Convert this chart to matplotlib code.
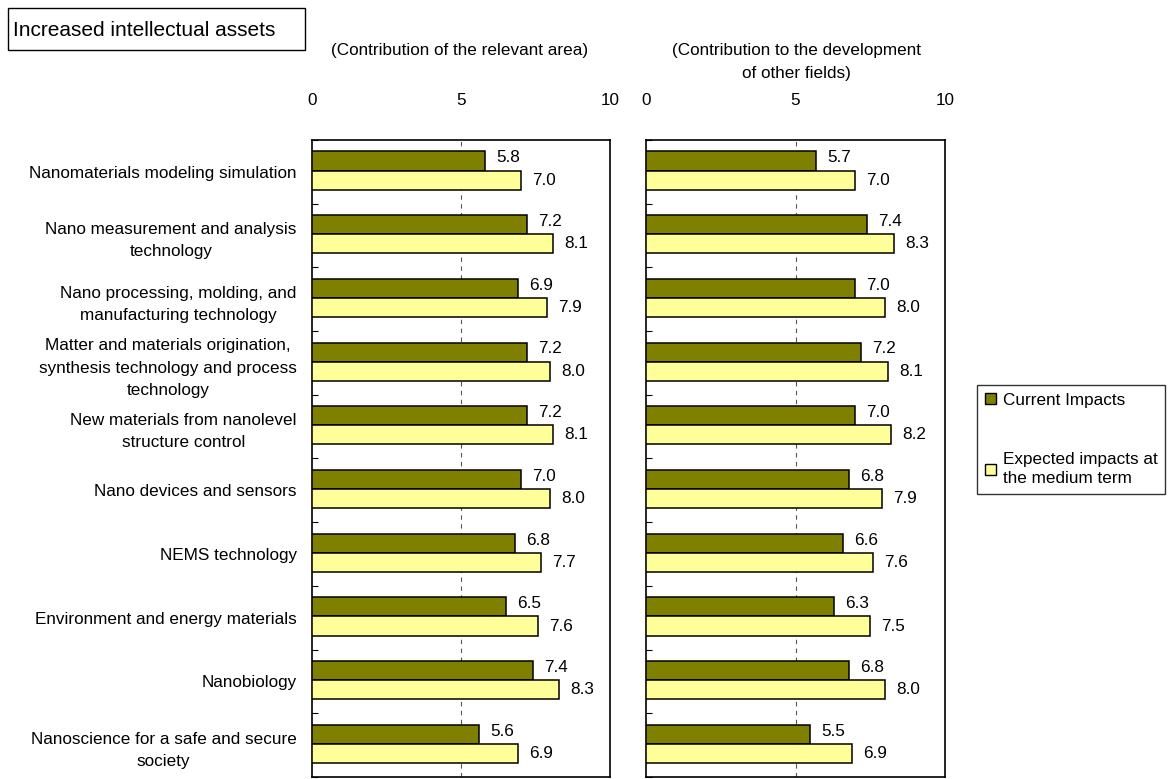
import numpy as np
import matplotlib
matplotlib.use("Agg")
import matplotlib.pyplot as plt
from matplotlib.patches import Patch, Rectangle

plt.rcParams.update({"font.family": ["Liberation Sans", "DejaVu Sans"], "font.size": 12})

categories = ["Nanomaterials modeling simulation",
              "Nano measurement and analysis\ntechnology",
              "Nano processing, molding, and\nmanufacturing technology",
              "Matter and materials origination,\nsynthesis technology and process\ntechnology",
              "New materials from nanolevel\nstructure control",
              "Nano devices and sensors",
              "NEMS technology",
              "Environment and energy materials",
              "Nanobiology",
              "Nanoscience for a safe and secure\nsociety"]
left_current = [5.8, 7.2, 6.9, 7.2, 7.2, 7.0, 6.8, 6.5, 7.4, 5.6]
left_expected = [7.0, 8.1, 7.9, 8.0, 8.1, 8.0, 7.7, 7.6, 8.3, 6.9]
right_current = [5.7, 7.4, 7.0, 7.2, 7.0, 6.8, 6.6, 6.3, 6.8, 5.5]
right_expected = [7.0, 8.3, 8.0, 8.1, 8.2, 7.9, 7.6, 7.5, 8.0, 6.9]
series_names = ["Current Impacts", "Expected impacts at\nthe medium term"]
xticks = [0, 5, 10]

C_CUR, C_EXP = "#808000", "#FFFF99"
W, H = 1170, 779
FS = 12.3
fig = plt.figure(figsize=(W / 100, H / 100), dpi=100)


def panel(x0, x1, cur, exp, show_labels):
    ax = fig.add_axes([x0 / W, 1 - 777 / H, (x1 - x0) / W, (777 - 140) / H])
    y = np.arange(len(categories))
    ax.barh(y - 0.17, cur, height=0.3, color=C_CUR, edgecolor="black", lw=1.1, zorder=3)
    ax.barh(y + 0.13, exp, height=0.3, color=C_EXP, edgecolor="black", lw=1.1, zorder=3)
    for yi, v in zip(y, cur):
        ax.annotate(f"{v:.1f}", (v, yi - 0.22), xytext=(8, 0), textcoords="offset points",
                    va="center", ha="left", fontsize=FS)
    for yi, v in zip(y, exp):
        ax.annotate(f"{v:.1f}", (v, yi + 0.13), xytext=(8, 0), textcoords="offset points",
                    va="center", ha="left", fontsize=FS)
    ax.axvline(5, color="#555555", lw=0.8, ls=(0, (4, 4)), zorder=1)
    ax.set_xlim(0, 10)
    ax.set_ylim(len(categories) - 0.5, -0.5)
    ax.xaxis.tick_top()
    ax.set_xticks(xticks)
    ax.tick_params(axis="x", length=0, pad=23, labelsize=FS)
    ax.set_yticks(y)
    if show_labels:
        ax.set_yticklabels(categories, multialignment="center", fontsize=FS, linespacing=1.6)
    else:
        ax.set_yticklabels([])
    ax.tick_params(axis="y", which="major", length=0, pad=11)
    ax.set_yticks(np.arange(len(categories) + 1) - 0.5, minor=True)
    ax.tick_params(axis="y", which="minor", length=4, direction="in", width=0.8)
    for s in ax.spines.values():
        s.set_linewidth(1.2)
    return ax


panel(312, 610, left_current, left_expected, True)
panel(646, 945, right_current, right_expected, False)

# title box
fig.patches.append(Rectangle((8 / W, 1 - 50 / H), 297 / W, 42 / H, transform=fig.transFigure,
                             facecolor="white", edgecolor="black", lw=1.0))
fig.text(13 / W, 1 - 30 / H, "Increased intellectual assets", fontsize=15, va="center", ha="left")
fig.text(460 / W, 1 - 50 / H, "(Contribution of the relevant area)", fontsize=FS, ha="center", va="center")
fig.text(796 / W, 1 - 62 / H, "(Contribution to the development\nof other fields)", fontsize=FS,
         ha="center", va="center", linespacing=1.7)

handles = [Patch(facecolor=C_CUR, edgecolor="black"), Patch(facecolor=C_EXP, edgecolor="black")]
leg = fig.legend(handles, series_names, loc="upper left", bbox_to_anchor=(977 / W, 1 - 385 / H),
                 frameon=True, fancybox=False, edgecolor="black", fontsize=FS,
                 handlelength=0.65, handleheight=0.65, handletextpad=0.4, labelspacing=2.6,
                 borderpad=0.45, borderaxespad=0)
leg.get_frame().set_linewidth(1.0)
for t in leg.get_texts():
    t.set_linespacing(1.35)

fig.savefig("out.png", dpi=100)
